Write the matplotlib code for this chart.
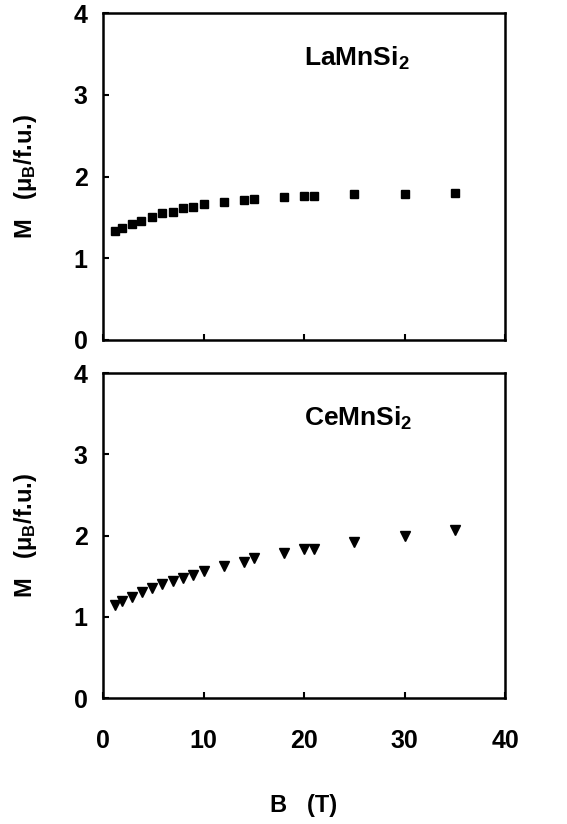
import matplotlib
matplotlib.use("Agg")
import matplotlib.pyplot as plt

# field (T)
B_la = [1.2, 1.9, 2.9, 3.8, 4.9, 5.9, 7, 8, 9, 10, 12, 14, 15, 18, 20, 21, 25, 30, 35]
B_ce = [1.2, 1.9, 2.9, 3.9, 4.9, 5.9, 7, 8, 9, 10, 12, 14, 15, 18, 20, 21, 25, 30, 35]
# magnetisation (muB/f.u.)
M_la = [1.33, 1.37, 1.42, 1.46, 1.50, 1.55, 1.57, 1.61, 1.63, 1.66,
        1.69, 1.71, 1.73, 1.75, 1.76, 1.76, 1.79, 1.79, 1.80]
M_ce = [1.15, 1.19, 1.24, 1.30, 1.35, 1.40, 1.44, 1.48, 1.52, 1.56,
        1.63, 1.68, 1.72, 1.79, 1.83, 1.84, 1.92, 1.99, 2.07]

xticks = [0, 10, 20, 30, 40]
yticks = [0, 1, 2, 3, 4]

plt.rcParams['font.family'] = ['Liberation Sans', 'DejaVu Sans']
plt.rcParams['font.weight'] = 'bold'
plt.rcParams['mathtext.fontset'] = 'custom'
plt.rcParams['mathtext.bf'] = 'Liberation Sans:bold'
plt.rcParams['mathtext.rm'] = 'Liberation Sans:bold'
plt.rcParams['mathtext.default'] = 'bf'

fig = plt.figure(figsize=(5.67, 8.24), dpi=100)
ax1 = fig.add_axes([0.1817, 0.5874, 0.709, 0.3968])
ax2 = fig.add_axes([0.1817, 0.1529, 0.709, 0.3944])

ax1.plot(B_la, M_la, 's', color='black', ms=6)
ax2.plot(B_ce, M_ce, 'v', color='black', ms=7.5)

for ax, name in [(ax1, r'LaMnSi$_2$'), (ax2, r'CeMnSi$_2$')]:
    ax.set_xlim(0, 40)
    ax.set_ylim(0, 4)
    ax.set_xticks(xticks)
    ax.set_yticks(yticks)
    ax.tick_params(direction='in', length=4, width=1.5, labelsize=18, pad=11)
    for s in ax.spines.values():
        s.set_linewidth(1.8)
    ax.text(0.5, 0.86, name, transform=ax.transAxes, fontsize=19,
            fontweight='bold', ha='left', va='center')
    ax.set_ylabel(r'M   ($\mu_B$/f.u.)', fontsize=17, fontweight='bold')
    ax.yaxis.set_label_coords(-0.16, 0.5)

ax1.tick_params(axis='x', labelbottom=False)
ax2.tick_params(axis='x', pad=22)
ax2.set_xticklabels(xticks, fontdict={'fontsize': 18, 'fontweight': 'bold'})
ax2.set_xlabel('B   (T)', fontsize=17, fontweight='bold', labelpad=30)

fig.savefig('out.png', dpi=100)
